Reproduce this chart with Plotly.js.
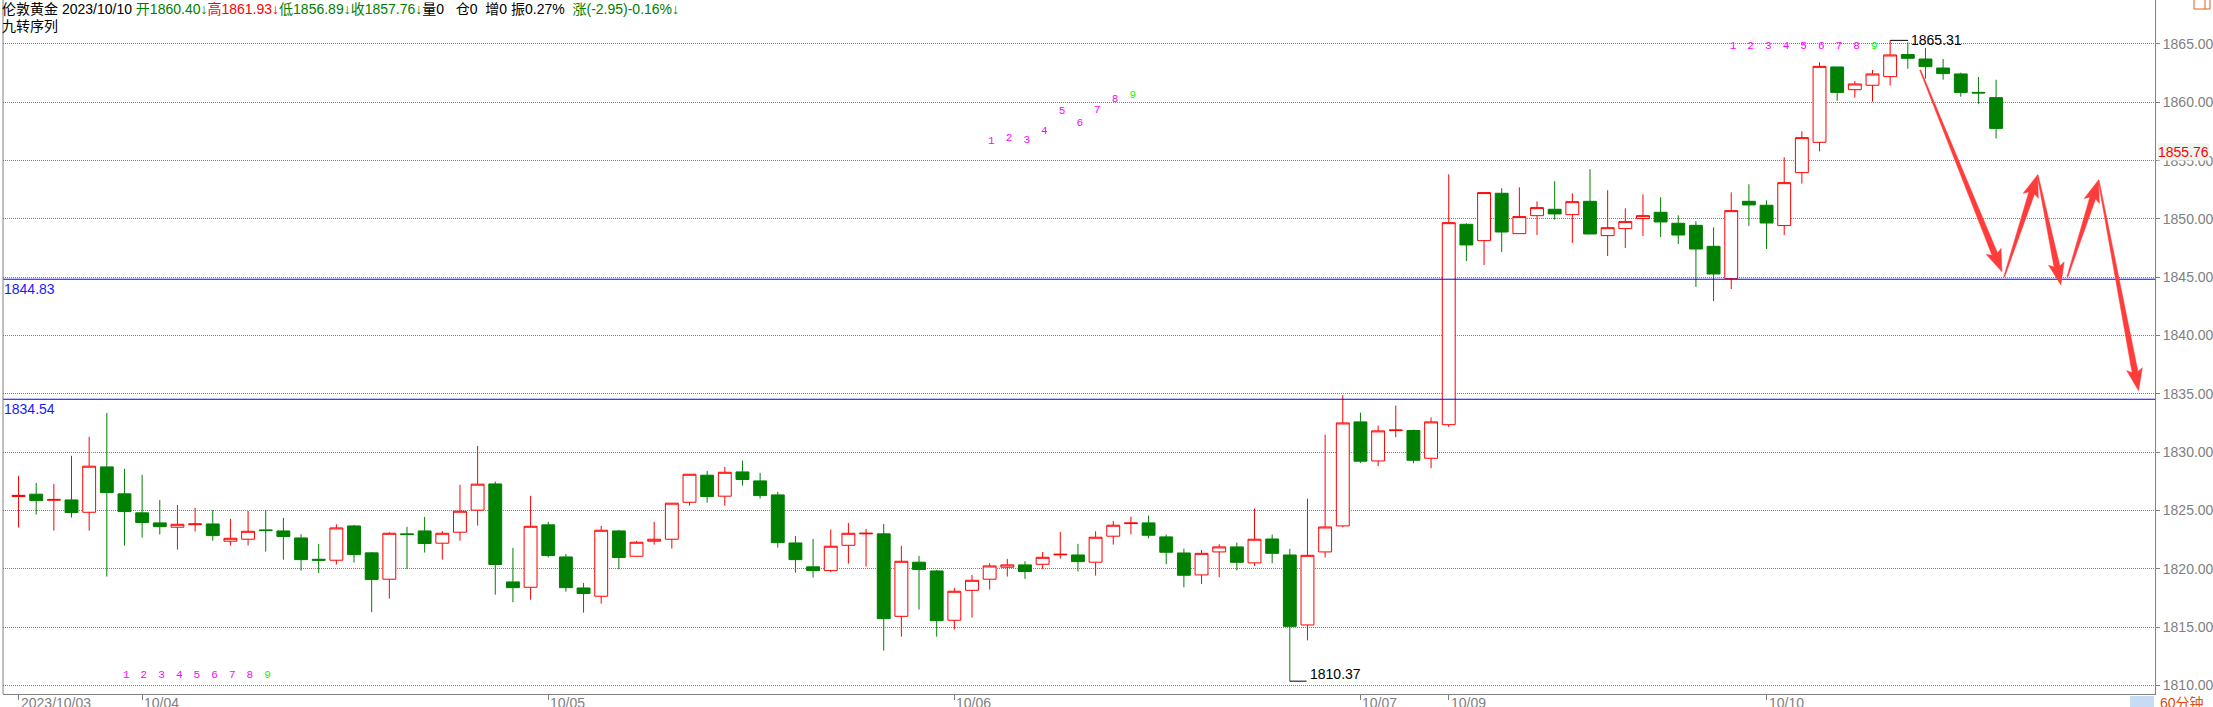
<!DOCTYPE html>
<html><head><meta charset="utf-8">
<script src="https://cdn.plot.ly/plotly-3.0.1.min.js"></script>
<style>html,body{margin:0;padding:0;background:#fff;overflow:hidden}#chart{width:2213px;height:707px}</style>
</head><body><div id="chart"></div>
<script>
// ---- data (60-minute London gold candles) ----
const openP = [1826.20,1826.40,1825.88,1825.91,1824.85,1828.74,1826.43,1824.80,1823.94,1823.57,
1823.79,1823.85,1822.37,1822.54,1823.34,1823.25,1822.65,1820.82,1820.74,1823.68,
1821.37,1819.11,1823.00,1823.25,1822.20,1823.14,1825.03,1827.28,1818.88,1818.42,
1823.77,1821.02,1818.36,1817.65,1823.25,1821.08,1822.37,1822.54,1825.71,1828.03,
1826.23,1828.31,1827.54,1826.34,1822.22,1820.17,1819.85,1822.02,1823.00,1823.00,
1815.93,1820.57,1819.82,1815.59,1818.16,1819.11,1820.14,1820.34,1820.39,1821.20,
1821.19,1820.57,1822.80,1823.88,1823.94,1822.74,1821.36,1819.48,1821.45,1821.88,
1820.51,1822.56,1821.19,1815.19,1821.45,1823.68,1832.60,1829.25,1831.85,1831.86,
1829.48,1832.36,1849.54,1848.14,1852.20,1848.74,1850.28,1850.83,1850.37,1851.51,
1848.57,1849.17,1850.03,1850.57,1849.63,1849.45,1847.65,1844.88,1851.51,1851.17,
1849.43,1853.97,1856.57,1863.03,1861.08,1861.46,1862.20,1864.09,1863.71,1862.94,
1862.43,1860.85,1860.40];
const highP = [1827.97,1827.37,1827.28,1829.69,1831.32,1833.37,1828.57,1828.06,1825.91,1825.48,
1825.23,1825.05,1824.28,1824.97,1825.05,1824.37,1822.97,1822.14,1823.82,1823.77,
1821.45,1823.14,1823.60,1824.45,1823.25,1827.20,1830.54,1827.48,1821.80,1826.26,
1824.03,1821.28,1818.79,1823.68,1823.34,1822.40,1824.03,1825.63,1828.11,1828.40,
1828.74,1829.29,1828.23,1826.60,1822.82,1822.57,1823.37,1823.94,1823.42,1823.85,
1821.97,1821.11,1819.91,1818.36,1819.48,1820.48,1820.85,1820.65,1821.45,1823.17,
1822.14,1823.22,1824.11,1824.48,1824.57,1822.94,1821.73,1821.62,1822.11,1822.25,
1825.17,1822.94,1821.71,1826.02,1831.51,1834.89,1833.40,1832.28,1834.00,1831.94,
1832.97,1853.83,1849.63,1852.26,1852.63,1852.71,1851.51,1853.23,1852.20,1854.26,
1852.46,1850.91,1852.11,1851.86,1850.31,1849.80,1849.28,1852.28,1852.97,1851.60,
1855.29,1857.52,1863.43,1863.03,1861.83,1862.77,1865.31,1865.14,1864.66,1863.71,
1862.54,1862.17,1861.93];
const lowP = [1823.54,1824.65,1823.28,1824.40,1823.28,1819.34,1822.00,1822.68,1822.94,1821.65,
1823.20,1822.42,1822.00,1822.00,1821.48,1820.79,1819.85,1819.62,1820.37,1820.54,
1816.28,1817.45,1820.00,1821.40,1820.79,1822.42,1823.71,1817.79,1817.14,1817.36,
1820.97,1818.05,1816.25,1817.02,1819.97,1821.05,1822.08,1821.74,1825.43,1825.68,
1825.43,1827.14,1826.03,1821.82,1819.68,1819.25,1819.71,1820.45,1820.19,1812.99,
1814.19,1816.51,1814.19,1814.79,1815.82,1818.22,1819.34,1819.14,1820.00,1820.88,
1819.77,1819.42,1822.08,1822.96,1822.62,1820.39,1818.42,1818.70,1819.28,1819.88,
1820.25,1820.48,1810.37,1813.87,1820.99,1823.57,1829.08,1828.80,1831.28,1829.05,
1828.62,1832.16,1846.39,1846.05,1847.17,1848.74,1848.62,1849.94,1847.94,1848.71,
1846.82,1847.51,1848.54,1848.45,1847.85,1844.17,1842.96,1843.99,1849.40,1847.42,
1848.62,1853.03,1855.79,1860.14,1860.40,1860.05,1861.43,1862.88,1862.03,1861.94,
1860.48,1859.88,1856.89];
const closeP = [1826.30,1825.85,1825.95,1824.83,1828.80,1826.54,1824.91,1823.97,1823.62,1823.82,
1823.85,1822.85,1822.62,1823.22,1823.28,1822.77,1820.79,1820.74,1823.51,1821.22,
1819.08,1823.05,1822.94,1822.17,1823.05,1824.94,1827.26,1820.37,1818.39,1823.65,
1821.14,1818.39,1817.88,1823.31,1820.97,1822.28,1822.54,1825.63,1828.11,1826.20,
1828.28,1827.66,1826.28,1822.25,1820.79,1819.85,1821.94,1823.05,1823.05,1815.73,
1820.65,1819.94,1815.56,1818.08,1819.02,1820.25,1820.34,1819.77,1820.99,1821.25,
1820.62,1822.71,1823.74,1823.93,1822.88,1821.42,1819.45,1821.33,1821.88,1820.56,
1822.54,1821.33,1815.07,1821.16,1823.59,1832.51,1829.23,1831.83,1831.90,1829.31,
1832.60,1849.68,1847.77,1852.26,1848.88,1850.20,1850.97,1850.43,1851.48,1848.71,
1849.25,1849.77,1850.28,1849.74,1848.62,1847.42,1845.28,1850.71,1851.20,1849.65,
1853.11,1856.97,1863.08,1860.85,1861.57,1862.43,1864.06,1863.77,1863.06,1862.46,
1860.85,1860.80,1857.76];
const barIndex = openP.map((_, i) => i);

const dateTickIdx = [0, 7, 30, 53, 76, 81, 99];
const dateTickText = ['2023/10/03', '10/04', '10/05', '10/06', '10/07', '10/09', '10/10'];

const levelPrices = [1844.83, 1834.54];

// 九转序列 labels
const tdBarIdx = [6,7,8,9,10,11,12,13,14, 55,56,57,58,59,60,61,62,63, 97,98,99,100,101,102,103,104,105];
const tdText = ['1','2','3','4','5','6','7','8','9','1','2','3','4','5','6','7','8','9','1','2','3','4','5','6','7','8','9'];
const tdPrice = [1810.86,1810.86,1810.86,1810.86,1810.86,1810.86,1810.86,1810.86,1810.86,
                 1856.68,1856.92,1856.77,1857.54,1859.26,1858.20,1859.34,1860.26,1860.63,
                 1864.83,1864.83,1864.83,1864.83,1864.83,1864.83,1864.83,1864.83,1864.83];

// hand-drawn forecast arrows: [barFrom, priceFrom, barTo, priceTo]
const trendArrows = [
  [107.7, 1862.77, 112.33, 1845.47],
  [112.46, 1845.04, 114.35, 1853.77],
  [114.35, 1853.77, 115.67, 1844.33],
  [116.04, 1845.04, 117.8, 1853.34],
  [117.8, 1853.34, 120.07, 1835.27]
];

// ---- layout geometry ----
const W = 2213, H = 707;
const M = {l: 3, r: 58, t: 0, b: 13};
const X_RANGE = [-0.88, 121.0];
const Y_RANGE = [1809.27, 1868.77];
const plotW = W - M.l - M.r, plotH = H - M.t - M.b;
const toPx = (x, p) => [ (x - X_RANGE[0]) / (X_RANGE[1] - X_RANGE[0]) * plotW,
                         (Y_RANGE[1] - p) / (Y_RANGE[1] - Y_RANGE[0]) * plotH ];
const toData = (px, py) => [ X_RANGE[0] + px / plotW * (X_RANGE[1] - X_RANGE[0]),
                             Y_RANGE[1] - py / plotH * (Y_RANGE[1] - Y_RANGE[0]) ];

function arrowPath(a) {
  const [sx, sy] = toPx(a[0], a[1]);
  const [tx, ty] = toPx(a[2], a[3]);
  const dx = tx - sx, dy = ty - sy, len = Math.hypot(dx, dy);
  const ux = dx / len, uy = dy / len, nx = -uy, ny = ux;
  const Lh = 19, Wh = 8, ws = 0.5, we = 3.0;
  const bx = tx - ux * Lh, by = ty - uy * Lh;
  const pts = [
    [sx + nx * ws, sy + ny * ws],
    [bx + nx * we, by + ny * we],
    [bx - ux * 3 + nx * Wh, by - uy * 3 + ny * Wh],
    [tx, ty],
    [bx - ux * 3 - nx * Wh, by - uy * 3 - ny * Wh],
    [bx - nx * we, by - ny * we],
    [sx - nx * ws, sy - ny * ws]
  ].map(p => toData(p[0], p[1]));
  return 'M' + pts.map(p => p[0].toFixed(4) + ',' + p[1].toFixed(4)).join(' L') + ' Z';
}

const GRAY = '#808080';
const FONT = 'Liberation Sans, Arial, Noto Sans CJK SC, sans-serif';
const CJK = 'Liberation Sans, Arial, Noto Sans CJK SC, sans-serif';

const traces = [
  {
    type: 'candlestick', x: barIndex, open: openP, high: highP, low: lowP, close: closeP,
    increasing: {line: {color: '#ff0000', width: 1}, fillcolor: '#ffffff'},
    decreasing: {line: {color: '#008000', width: 1}, fillcolor: '#008000'},
    whiskerwidth: 0, hoverinfo: 'skip', showlegend: false
  },
  {
    type: 'scatter', mode: 'text', x: tdBarIdx.map(v => v + 0.1), y: tdPrice, text: tdText,
    textposition: 'middle center',
    textfont: {family: 'Liberation Mono, DejaVu Sans Mono, monospace', size: 11,
               color: tdText.map(t => t === '9' ? '#00ff00' : '#ff00ff')},
    hoverinfo: 'skip', showlegend: false
  }
];

const maxIdx = highP.indexOf(Math.max(...highP));
const minIdx = lowP.indexOf(Math.min(...lowP));

const shapes = [];
levelPrices.forEach(p => shapes.push({type: 'line', xref: 'paper', x0: 0, x1: 1, yref: 'y', y0: p, y1: p,
  line: {color: '#0000ff', width: 1}}));
shapes.push({type: 'line', xref: 'x', x0: maxIdx, x1: maxIdx + 1.02, yref: 'y', y0: highP[maxIdx], y1: highP[maxIdx], line: {color: '#000000', width: 1}});
shapes.push({type: 'line', xref: 'x', x0: minIdx, x1: minIdx + 0.95, yref: 'y', y0: lowP[minIdx], y1: lowP[minIdx], line: {color: '#000000', width: 1}});
shapes.push({type: 'line', xref: 'paper', x0: 0, x1: 0, yref: 'paper', y0: 0, y1: 1, line: {color: GRAY, width: 1}});
trendArrows.forEach(a => shapes.push({type: 'path', xref: 'x', yref: 'y', path: arrowPath(a),
  fillcolor: '#ff3c3c', line: {color: '#ff3c3c', width: 0.5}}));
// top-right small window box & bottom-right period tab
shapes.push({type: 'rect', xref: 'paper', yref: 'paper', x0: (2194 - M.l) / plotW, x1: (2210 - M.l) / plotW,
  y0: (plotH - 9) / plotH, y1: 1.003, line: {color: '#e06020', width: 1}, fillcolor: 'rgba(0,0,0,0)'});
shapes.push({type: 'line', xref: 'paper', yref: 'paper', x0: (2205 - M.l) / plotW, x1: (2205 - M.l) / plotW,
  y0: (plotH - 9) / plotH, y1: 1.003, line: {color: '#e06020', width: 1}});
shapes.push({type: 'rect', xref: 'paper', yref: 'paper', x0: (2130 - M.l) / plotW, x1: (2154 - M.l) / plotW,
  y0: -0.02, y1: -2 / plotH, line: {width: 0}, fillcolor: '#c6dcf4'});

const annotations = [];
const hdr = '伦敦黄金 2023/10/10 ' +
  '<span style="color:#008000">开1860.40↓</span>' +
  '<span style="color:#ff0000">高1861.93↓</span>' +
  '<span style="color:#008000">低1856.89↓</span>' +
  '<span style="color:#008000">收1857.76↓</span>' +
  '量0&nbsp;&nbsp; 仓0&nbsp; 增0&nbsp;振0.27%&nbsp; ' +
  '<span style="color:#008000">涨(-2.95)-0.16%↓</span>';
annotations.push({xref: 'paper', yref: 'paper', x: 0, y: 1, xanchor: 'left', yanchor: 'top', xshift: -3, yshift: 1,
  text: hdr, showarrow: false, font: {family: CJK, size: 14, color: '#000000'}});
annotations.push({xref: 'paper', yref: 'paper', x: 0, y: 1, xanchor: 'left', yanchor: 'top', xshift: -3, yshift: -16,
  text: '九转序列', showarrow: false, font: {family: CJK, size: 14, color: '#000000'}});
levelPrices.forEach(p => annotations.push({xref: 'paper', yref: 'y', x: 0, y: p, xanchor: 'left', yanchor: 'top',
  xshift: -1, yshift: 0, text: p.toFixed(2), showarrow: false, font: {family: FONT, size: 14, color: '#1a1aff'}}));
annotations.push({xref: 'x', yref: 'y', x: maxIdx + 1.02, y: highP[maxIdx], xanchor: 'left', yanchor: 'middle', xshift: 1,
  text: highP[maxIdx].toFixed(2), showarrow: false, font: {family: FONT, size: 14, color: '#000000'}});
annotations.push({xref: 'x', yref: 'y', x: minIdx + 0.95, y: lowP[minIdx], xanchor: 'left', yanchor: 'bottom', xshift: 1, yshift: -3,
  text: lowP[minIdx].toFixed(2), showarrow: false, font: {family: FONT, size: 14, color: '#000000'}});
dateTickIdx.forEach((k, i) => annotations.push({xref: 'x', yref: 'paper', x: k, y: 0, xanchor: 'left', yanchor: 'top',
  xshift: 0, yshift: 1, text: dateTickText[i], showarrow: false, font: {family: FONT, size: 14, color: GRAY}}));
annotations.push({xref: 'paper', yref: 'y', x: 1, y: 1855.76, xanchor: 'left', yanchor: 'middle', xshift: 2,
  text: '1855.76', showarrow: false, bgcolor: '#eef4ee', borderpad: 0,
  font: {family: FONT, size: 14, color: '#ff0000'}});
annotations.push({xref: 'paper', yref: 'paper', x: 1, y: 0, xanchor: 'left', yanchor: 'top', xshift: 3, yshift: 1,
  text: '60分钟', showarrow: false, font: {family: CJK, size: 14, color: '#e04a10'}});

const layout = {
  width: W, height: H, margin: M, paper_bgcolor: '#ffffff', plot_bgcolor: '#ffffff',
  showlegend: false, hovermode: false, boxgap: 0.27, boxgroupgap: 0,
  xaxis: {
    type: 'linear', range: X_RANGE, fixedrange: true, showgrid: false, zeroline: false,
    showline: true, linecolor: GRAY, linewidth: 1, ticks: 'outside', ticklen: 5, tickcolor: GRAY,
    tickvals: dateTickIdx, showticklabels: false, rangeslider: {visible: false}
  },
  yaxis: {
    side: 'right', range: Y_RANGE, fixedrange: true, tick0: 1810, dtick: 5, tickformat: '.2f',
    showgrid: true, gridcolor: GRAY, gridwidth: 1, griddash: '1px,1px', zeroline: false,
    showline: true, linecolor: GRAY, linewidth: 1, ticks: 'outside', ticklen: 4, tickcolor: GRAY,
    tickfont: {family: FONT, size: 14, color: GRAY}
  },
  shapes: shapes, annotations: annotations
};

Plotly.newPlot('chart', traces, layout, {displayModeBar: false, staticPlot: true});
</script></body></html>
